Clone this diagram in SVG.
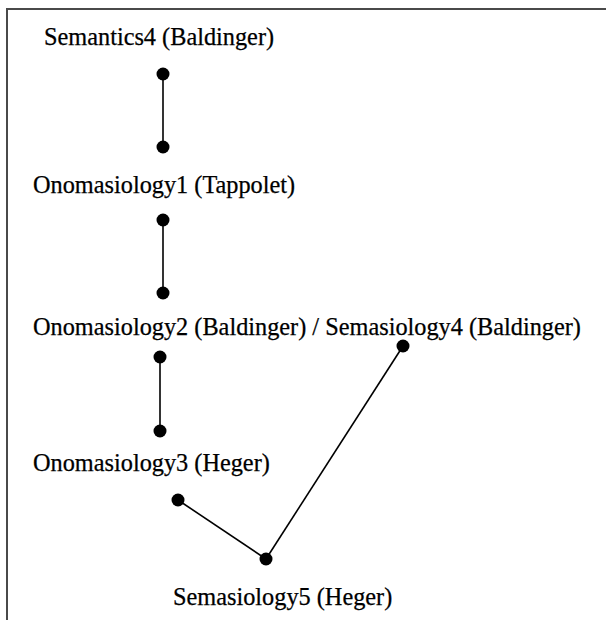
<svg xmlns="http://www.w3.org/2000/svg" width="606" height="620" viewBox="0 0 606 620">
  <style>
    .frame { stroke: #4a4a4a; stroke-width: 2; fill: none; }
    .edge { stroke: #000; stroke-width: 1.6; fill: none; }
    .dot { fill: #000; }
    .label { font-family: "Liberation Serif", "Times New Roman", serif; font-size: 24.3px; fill: #000; stroke: #000; stroke-width: 0.25; }
  </style>
  <rect width="606" height="620" fill="#fff"/>
  <!-- open frame: top and left rules -->
  <path class="frame" d="M7 620 V9 H606"/>

  <g id="connectors">
    <line class="edge" x1="163" y1="74" x2="163" y2="147"/>
    <line class="edge" x1="163" y1="220" x2="163" y2="293"/>
    <line class="edge" x1="160" y1="357" x2="160" y2="431"/>
    <line class="edge" x1="178" y1="500" x2="266" y2="559"/>
    <line class="edge" x1="266" y1="559" x2="403" y2="346"/>
  </g>

  <g id="semantics4">
    <text class="label" x="44" y="45">Semantics4 (Baldinger)</text>
    <circle class="dot" cx="163" cy="74" r="6.5"/>
  </g>
  <g id="onomasiology1">
    <circle class="dot" cx="163" cy="147" r="6.5"/>
    <text class="label" x="33" y="193">Onomasiology1 (Tappolet)</text>
    <circle class="dot" cx="163" cy="220" r="6.5"/>
  </g>
  <g id="onomasiology2-semasiology4">
    <circle class="dot" cx="163" cy="293" r="6.5"/>
    <text class="label" x="33" y="335">Onomasiology2 (Baldinger) / Semasiology4 (Baldinger)</text>
    <circle class="dot" cx="160" cy="357" r="6.5"/>
    <circle class="dot" cx="403" cy="346" r="6.5"/>
  </g>
  <g id="onomasiology3">
    <circle class="dot" cx="160" cy="431" r="6.5"/>
    <text class="label" x="33" y="471">Onomasiology3 (Heger)</text>
    <circle class="dot" cx="178" cy="500" r="6.5"/>
  </g>
  <g id="semasiology5">
    <circle class="dot" cx="266" cy="559" r="6.5"/>
    <text class="label" x="173" y="605">Semasiology5 (Heger)</text>
  </g>
</svg>
